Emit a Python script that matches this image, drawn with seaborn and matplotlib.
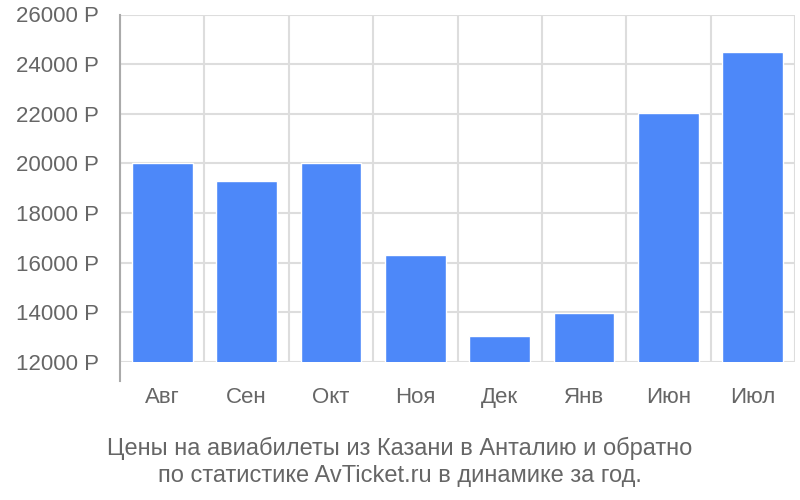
import numpy as np
import pandas as pd
import seaborn as sns
import matplotlib
matplotlib.use("Agg")
import matplotlib.pyplot as plt
from matplotlib.ticker import FixedLocator, FuncFormatter

# Data
months = ["Авг", "Сен", "Окт", "Ноя", "Дек", "Янв", "Июн", "Июл"]
prices = [20000, 19300, 20020, 16320, 13050, 13980, 22020, 24470]
y_ticks = [12000, 14000, 16000, 18000, 20000, 22000, 24000, 26000]
title_lines = ["Цены на авиабилеты из Казани в Анталию и обратно",
               "по статистике AvTicket.ru в динамике за год."]

sns.set_style("white")
plt.rcParams['font.family'] = ['Liberation Sans', 'DejaVu Sans']

grid_color = '#dddddd'
text_color = '#666666'
bar_color = '#4d88f9'

df = pd.DataFrame({'month': months, 'price': prices})

fig = plt.figure(figsize=(8, 5), dpi=100)
ax = fig.add_axes([0.15, 0.276, 0.84375, 0.695])

sns.barplot(data=df, x='month', y='price', color=bar_color, width=0.72,
            saturation=1, ax=ax, zorder=3)

ax.set_ylim(y_ticks[0], y_ticks[-1])
ax.set_xlim(-0.5, len(months) - 0.5)
ax.set_yticks(y_ticks)
ax.yaxis.set_major_formatter(FuncFormatter(lambda v, _: f"{int(v)} Р"))
ax.xaxis.set_minor_locator(FixedLocator(np.arange(-0.5, len(months), 1.0)))

# grid lines
ax.grid(axis='y', which='major', color=grid_color, linewidth=1.5, zorder=0)
ax.grid(axis='x', which='minor', color=grid_color, linewidth=1.5, zorder=0)
ax.set_axisbelow(True)

ax.tick_params(axis='x', which='major', length=0, pad=18,
               labelsize=16, labelcolor=text_color)
ax.tick_params(axis='x', which='minor', length=13.7, width=1.5,
               color=grid_color, direction='out')
ax.tick_params(axis='y', which='major', length=14.4, width=1.5,
               color=grid_color, pad=1, labelsize=16, labelcolor=text_color)

for side in ['top', 'right', 'bottom']:
    ax.spines[side].set_visible(False)
ax.spines['left'].set_color('#aaaaaa')
ax.spines['left'].set_linewidth(1.5)
ax.spines['left'].set_bounds(y_ticks[0] - 760, y_ticks[-1])
ax.spines['left'].set_zorder(4)
ax.spines['left'].set_clip_on(False)

ax.set_xlabel('')
ax.set_ylabel('')

fig.text(0.5, 0.076, title_lines[0] + "\n" + title_lines[1],
         ha='center', va='center', fontsize=17, color=text_color,
         linespacing=1.32)

fig.savefig('out.png', dpi=100)
